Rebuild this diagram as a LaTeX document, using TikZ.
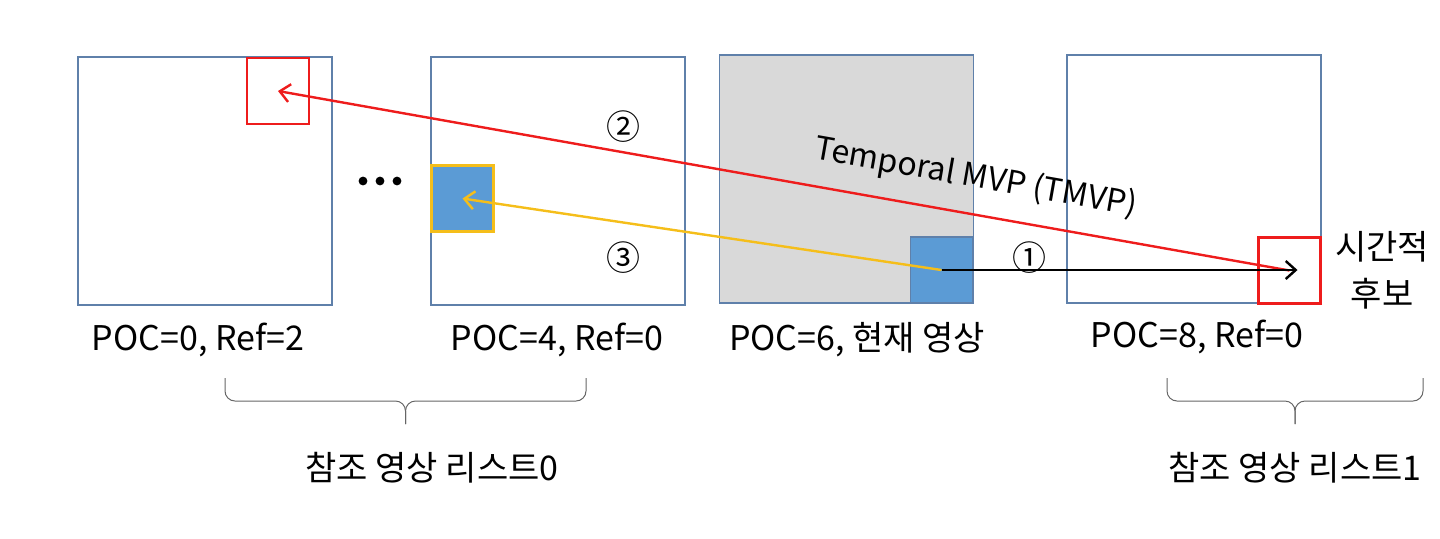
\documentclass[tikz,border=0pt]{standalone}
\usepackage{fontspec}
\setmainfont{Noto Sans CJK KR}
\usetikzlibrary{arrows.meta, positioning, decorations.pathreplacing}
\definecolor{frameblue}{HTML}{5F80AA}
\definecolor{blkblue}{HTML}{5B9BD5}
\definecolor{mvyellow}{HTML}{F5BE1A}
\definecolor{curgray}{HTML}{D9D9D9}
\definecolor{mvred}{HTML}{EE1C1C}

\begin{document}
\begin{tikzpicture}[x=0.5pt, y=-0.5pt, >={Straight Barb[length=5pt, width=9pt]},
    frame/.style={draw=frameblue, line width=0.8pt, minimum width=127pt, minimum height=124pt, inner sep=0pt},
    blk/.style={minimum width=31pt, minimum height=33pt, inner sep=0pt, line width=1.4pt},
    lbl/.style={font=\fontsize{17}{20}\selectfont, inner sep=1pt},
    numlbl/.style={font=\fontsize{17}{20}\selectfont, inner sep=1pt},
    mv/.style={->, line width=1.2pt},
    listbrace/.style={draw=black!60, line width=0.5pt, rounded corners=5pt}]
  \useasboundingbox (0,0) rectangle (1440,538);

  % pictures
  \node[frame] (f0) at (205,181) {};
  \node[frame] (f4) at (558,181) {};
  \node[frame, fill=curgray] (f6) at (846.5,179) {};
  \node[frame] (f8) at (1194,179) {};

  % blocks
  \node[blk, draw=mvred] (r0) at (278,91) {};
  \node[blk, draw=mvyellow, fill=blkblue] (b4) at (462.5,198.5) {};
  \node[blk, draw=frameblue, fill=blkblue, line width=0.8pt] (b6) at (941.5,270) {};
  \node[blk, draw=mvred] (r8) at (1289.5,270.5) {};

  \foreach \x in {363,380,397}
    \fill (\x,181) circle (2.2pt);

  % motion vectors
  \draw[mv, mvred] (r8.center) -- (r0.center);
  \draw[mv, mvyellow] (b6.center) -- (b4.center);
  \draw[mv, black] (b6.center) -- ([xshift=4pt]b6.center -| r8.center);

  \node[numlbl] (n1) at (1029,258) {①};
  \node[numlbl] (n2) at (623,127) {②};
  \node[numlbl] (n3) at (623,258) {③};
  \node[lbl, font=\fontsize{16}{18}\selectfont, rotate=-10] (tmvp) at (976,178) {Temporal MVP (TMVP)};
  \node[lbl, align=center, font=\fontsize{17}{23.5}\selectfont] (cand) at (1382,270) {시간적\\후보};

  % labels
  \node[lbl] (p0) at (198,340) {POC=0, Ref=2};
  \node[lbl] (p4) at (557,340) {POC=4, Ref=0};
  \node[lbl] (p6) at (857,340) {POC=6, 현재 영상};
  \node[lbl] (p8) at (1197,337) {POC=8, Ref=0};

  % reference lists
  \coordinate (l0a) at (586,378);
  \coordinate (l0b) at (225,378);
  \coordinate (l0t) at (405.5,424);
  \coordinate (l1a) at (1423,378);
  \coordinate (l1b) at (1167,378);
  \coordinate (l1t) at (1295,424);
  \draw[listbrace] (l0a) |- ([yshift=11.5pt]l0t) -- (l0t);
  \draw[listbrace] (l0b) |- ([yshift=11.5pt]l0t) -- (l0t);
  \draw[listbrace] (l1a) |- ([yshift=11.5pt]l1t) -- (l1t);
  \draw[listbrace] (l1b) |- ([yshift=11.5pt]l1t) -- (l1t);
  \node[lbl] (list0) at (432,468) {참조 영상 리스트0};
  \node[lbl] (list1) at (1295,468) {참조 영상 리스트1};
\end{tikzpicture}
\end{document}
